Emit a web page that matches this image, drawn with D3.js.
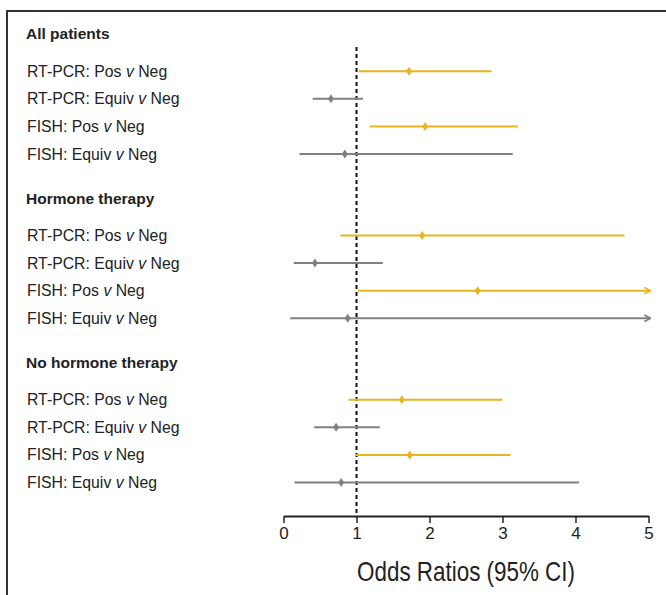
<!DOCTYPE html>
<html lang="en">
<head>
<meta charset="utf-8">
<title>Odds Ratios</title>
<script src="https://d3js.org/d3.v7.min.js"></script>
<style>
	body { margin: 0; background: #fff; }
	svg { display: block; font-family: "Liberation Sans", Arial, sans-serif; }
</style>
</head>
<body>
<div id="chart"></div>
<script>
	// groups and rows, top to bottom
	var groups = ["All patients", "Hormone therapy", "No hormone therapy"];
	var rowLabels = [
		["RT-PCR: Pos ", "Neg"],
		["RT-PCR: Equiv ", "Neg"],
		["FISH: Pos ", "Neg"],
		["FISH: Equiv ", "Neg"]
	];
	var rowKind = ["pos", "equiv", "pos", "equiv"];

	// odds ratio estimates and 95% CI per group (Infinity = runs off the axis)
	var estimate = [
		[1.72, 0.65, 1.94, 0.84],
		[1.90, 0.43, 2.66, 0.88],
		[1.62, 0.72, 1.73, 0.79]
	];
	var lower = [
		[1.03, 0.40, 1.18, 0.22],
		[0.78, 0.14, 1.02, 0.09],
		[0.89, 0.42, 0.98, 0.15]
	];
	var upper = [
		[2.85, 1.09, 3.21, 3.14],
		[4.67, 1.36, Infinity, Infinity],
		[3.00, 1.32, 3.11, 4.05]
	];
	var xTicks = [0, 1, 2, 3, 4, 5];

	var width = 666, height = 595;
	var colors = { pos: "#e8b51f", equiv: "#808080" };

	var svg = d3.select("#chart").append("svg")
		.attr("width", width)
		.attr("height", height);

	// frame (right and bottom run off the page)
	svg.append("path")
		.attr("d", "M7," + height + "V11H" + width)
		.attr("fill", "none")
		.attr("stroke", "#333")
		.attr("stroke-width", 2);

	var x = d3.scaleLinear().domain([0, 5]).range([283.5, 648.5]);

	// vertical layout in "row units": header at 0, rows from 1.35, next group 5.95 further down
	var groupStep = 5.95, firstRow = 1.35;
	var y = d3.scaleLinear().domain([0, 1]).range([34, 34 + 27.6]);
	function headPos(g) { return y(g * groupStep); }
	function rowPos(g, r) { return y(g * groupStep + firstRow + r); }

	var rows = [];
	groups.forEach(function(gName, gi) {
		rowLabels.forEach(function(lab, ri) { rows.push({ g: gi, r: ri }); });
	});

	var axisY = 516;

	// reference line at OR = 1
	svg.append("line")
		.attr("x1", x(1)).attr("x2", x(1))
		.attr("y1", 47).attr("y2", axisY)
		.attr("stroke", "#111")
		.attr("stroke-width", 2)
		.attr("stroke-dasharray", "4,3");

	// group headers
	svg.selectAll(".head")
		.data(groups)
		.enter().append("text")
		.attr("class", "head")
		.attr("x", 26)
		.attr("y", function(d, i) { return headPos(i); })
		.attr("dy", "0.35em")
		.attr("font-size", 15.5)
		.attr("font-weight", "bold")
		.attr("fill", "#222")
		.text(function(d) { return d; });

	// row labels with italic "v"
	var lab = svg.selectAll(".lab")
		.data(rows)
		.enter().append("text")
		.attr("class", "lab")
		.attr("x", 27)
		.attr("y", function(d) { return rowPos(d.g, d.r); })
		.attr("dy", "0.35em")
		.attr("font-size", 15.8)
		.attr("fill", "#222");
	lab.append("tspan").text(function(d) { return rowLabels[d.r][0]; });
	lab.append("tspan").attr("font-style", "italic").text("v");
	lab.append("tspan").text(function(d) { return " " + rowLabels[d.r][1]; });

	// arrow markers
	var defs = svg.append("defs");
	Object.keys(colors).forEach(function(k) {
		defs.append("marker")
			.attr("id", "arrow-" + k)
			.attr("viewBox", "0 0 10 10")
			.attr("refX", 9).attr("refY", 5)
			.attr("markerWidth", 4).attr("markerHeight", 4)
			.attr("orient", "auto")
			.append("path")
			.attr("d", "M1,1L9,5L1,9")
			.attr("fill", "none")
			.attr("stroke", colors[k])
			.attr("stroke-width", 2);
	});

	// CI lines
	svg.selectAll(".ci")
		.data(rows)
		.enter().append("line")
		.attr("class", "ci")
		.attr("x1", function(d) { return x(lower[d.g][d.r]); })
		.attr("x2", function(d) { return x(Math.min(upper[d.g][d.r], 5.03)); })
		.attr("y1", function(d) { return rowPos(d.g, d.r); })
		.attr("y2", function(d) { return rowPos(d.g, d.r); })
		.attr("stroke", function(d) { return colors[rowKind[d.r]]; })
		.attr("stroke-width", 2)
		.attr("marker-end", function(d) {
			return isFinite(upper[d.g][d.r]) ? null : "url(#arrow-" + rowKind[d.r] + ")";
		});

	// point estimates (small diamonds)
	svg.selectAll(".pt")
		.data(rows)
		.enter().append("path")
		.attr("class", "pt")
		.attr("transform", function(d) {
			return "translate(" + x(estimate[d.g][d.r]) + "," + rowPos(d.g, d.r) + ")";
		})
		.attr("d", "M0,-4.5L3,0L0,4.5L-3,0Z")
		.attr("fill", function(d) { return colors[rowKind[d.r]]; });

	// x axis
	var xAxis = d3.axisBottom(x).tickValues(xTicks).tickFormat(d3.format("d"))
		.tickSize(7).tickSizeOuter(0).tickPadding(4);
	var gx = svg.append("g")
		.attr("transform", "translate(0," + axisY + ")")
		.call(xAxis);
	gx.select(".domain").attr("stroke", "#222").attr("stroke-width", 2);
	gx.selectAll(".tick line").attr("stroke", "#222").attr("stroke-width", 1.5);
	gx.selectAll(".tick text")
		.attr("font-size", 17)
		.attr("font-family", "Liberation Sans, Arial, sans-serif")
		.attr("fill", "#222");

	// axis title, condensed
	svg.append("text")
		.attr("transform", "translate(" + x(2.5) + ",581) scale(0.83,1)")
		.attr("text-anchor", "middle")
		.attr("font-size", 27)
		.attr("fill", "#222")
		.text("Odds Ratios (95% CI)");
</script>
</body>
</html>
